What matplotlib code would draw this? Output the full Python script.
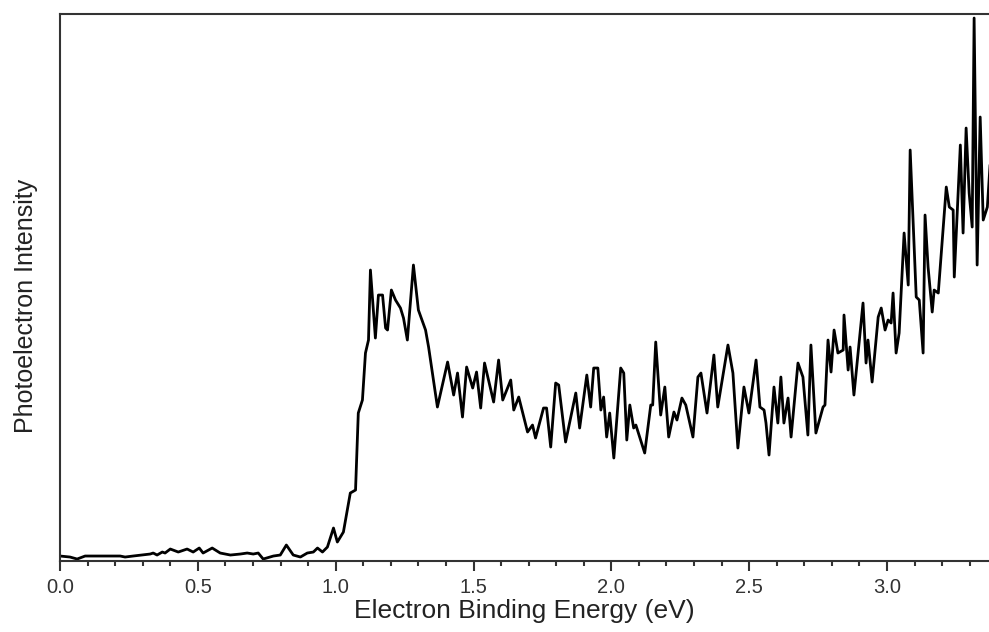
import matplotlib
matplotlib.use("Agg")
import matplotlib.pyplot as plt
from matplotlib.ticker import MultipleLocator

# photoelectron spectrum (energy in eV, intensity in a.u.)
energy = [
    0.000, 0.036, 0.062, 0.091, 0.218, 0.236, 0.265, 0.327, 0.338, 0.352,
    0.371, 0.381, 0.400, 0.429, 0.461, 0.483, 0.505, 0.519, 0.552, 0.581,
    0.618, 0.654, 0.679, 0.701, 0.719, 0.737, 0.774, 0.799, 0.821, 0.846,
    0.872, 0.897, 0.919, 0.934, 0.952, 0.970, 0.992, 1.006, 1.028, 1.053,
    1.072, 1.082, 1.097, 1.108, 1.119, 1.126, 1.144, 1.155, 1.170, 1.181,
    1.188, 1.202, 1.217, 1.235, 1.246, 1.260, 1.282, 1.300, 1.326, 1.337,
    1.369, 1.406, 1.428, 1.442, 1.460, 1.475, 1.497, 1.511, 1.526, 1.540,
    1.573, 1.591, 1.606, 1.635, 1.646, 1.664, 1.696, 1.714, 1.725, 1.754,
    1.765, 1.780, 1.798, 1.809, 1.834, 1.871, 1.885, 1.911, 1.925, 1.936,
    1.951, 1.962, 1.972, 1.983, 1.994, 2.009, 2.034, 2.045, 2.056, 2.067,
    2.081, 2.089, 2.121, 2.143, 2.150, 2.161, 2.179, 2.194, 2.208, 2.227,
    2.238, 2.256, 2.270, 2.296, 2.314, 2.325, 2.347, 2.372, 2.386, 2.423,
    2.441, 2.459, 2.481, 2.499, 2.525, 2.539, 2.554, 2.561, 2.572, 2.590,
    2.604, 2.615, 2.626, 2.641, 2.652, 2.677, 2.695, 2.713, 2.724, 2.742,
    2.768, 2.775, 2.786, 2.797, 2.808, 2.822, 2.841, 2.844, 2.859, 2.866,
    2.880, 2.913, 2.924, 2.931, 2.946, 2.968, 2.979, 2.993, 3.004, 3.015,
    3.022, 3.033, 3.044, 3.062, 3.077, 3.084, 3.106, 3.117, 3.131, 3.138,
    3.149, 3.164, 3.171, 3.186, 3.215, 3.226, 3.240, 3.244, 3.266, 3.276,
    3.287, 3.298, 3.309, 3.316, 3.327, 3.338, 3.349, 3.364, 3.375,
]
intensity = [
    5, 4, 2, 5, 5, 4, 5, 7, 8, 6,
    9, 8, 12, 9, 12, 9, 13, 8, 13, 8,
    6, 7, 8, 7, 8, 2, 5, 6, 16, 6,
    4, 8, 9, 13, 9, 14, 33, 19, 29, 68,
    71, 148, 161, 208, 221, 291, 223, 266, 266, 233,
    231, 271, 261, 253, 243, 221, 296, 251, 231, 214,
    154, 199, 166, 188, 144, 194, 173, 189, 153, 198,
    159, 201, 161, 181, 151, 164, 129, 136, 123, 153,
    153, 114, 178, 176, 119, 168, 133, 186, 154, 193,
    193, 151, 164, 124, 148, 103, 193, 188, 121, 156,
    133, 136, 108, 156, 156, 219, 146, 174, 124, 149,
    141, 163, 156, 124, 184, 188, 148, 206, 154, 216,
    188, 113, 174, 148, 201, 154, 151, 138, 106, 174,
    138, 184, 138, 163, 124, 198, 184, 126, 216, 128,
    154, 156, 221, 189, 231, 208, 211, 246, 191, 214,
    166, 258, 198, 221, 179, 244, 253, 231, 241, 238,
    268, 208, 228, 328, 276, 411, 264, 261, 208, 346,
    294, 249, 271, 268, 374, 354, 351, 284, 416, 328,
    433, 368, 334, 543, 296, 444, 341, 354, 401,
]

plt.rcParams['font.family'] = ['Liberation Sans', 'DejaVu Sans']

fig = plt.figure(figsize=(9.89, 6.32), dpi=100)
ax = fig.add_axes([0.0607, 0.1123, 0.9393, 0.8655])

ax.plot(energy, intensity, color='black', linewidth=2.0)

ax.set_xlim(0, 3.37)
ax.set_ylim(0, 547)
ax.xaxis.set_major_locator(MultipleLocator(0.5))
ax.xaxis.set_minor_locator(MultipleLocator(0.1))
ax.xaxis.set_major_formatter(plt.FuncFormatter(lambda v, p: f"{v:.1f}"))
ax.set_yticks([])

for side in ['left', 'bottom', 'top']:
    ax.spines[side].set_linewidth(1.5)
    ax.spines[side].set_color('#333333')
ax.spines['right'].set_visible(False)

ax.tick_params(axis='x', which='major', direction='out', length=7, width=1.5,
               color='#333333', labelsize=14.5, labelcolor='#333333', pad=5.5)
ax.tick_params(axis='x', which='minor', direction='out', length=3.5, width=1.5,
               color='#333333')

ax.set_xlabel('Electron Binding Energy (eV)', fontsize=19, color='#222222', labelpad=1)
ax.set_ylabel('Photoelectron Intensity', fontsize=18, color='#222222')
ax.yaxis.set_label_coords(-0.024, 0.466)

fig.savefig('out.png', dpi=100)
